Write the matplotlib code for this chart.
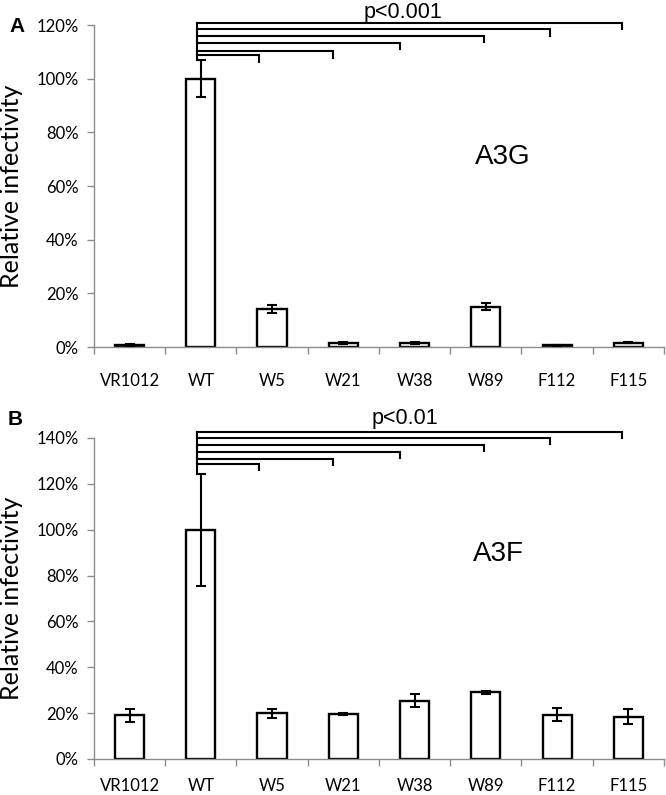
import numpy as np
import matplotlib.pyplot as plt

# data (relative infectivity, %)
groups = ["VR1012", "WT", "W5", "W21", "W38", "W89", "F112", "F115"]

a3g_mean = [0.8, 100, 14, 1.5, 1.5, 15, 0.7, 1.6]
a3g_err = [0.3, 7, 1.5, 0.3, 0.5, 1.3, 0.2, 0.2]

a3f_mean = [19, 100, 20, 19.5, 25.5, 29, 19.3, 18.5]
a3f_err = [3, 24.5, 2, 0.5, 2.8, 0.8, 2.8, 3.2]

compared = ["W5", "W21", "W38", "W89", "F112", "F115"]
p_a3g = "p<0.001"
p_a3f = "p<0.01"

# layout of the hand drawn brackets
end_shift = [-0.18, -0.15, -0.21, -0.03, -0.10, -0.09]
lvl_a3g = [108.8, 110.3, 113.3, 115.9, 118.5, 120.8]
lvl_a3f = [128.6, 130.8, 133.9, 137.0, 140.0, 142.6]

fig = plt.figure(figsize=(6.66, 7.95), dpi=100)
axA = fig.add_axes([0.1411, 0.5635, 0.8559, 0.405])
axB = fig.add_axes([0.1411, 0.0453, 0.8559, 0.4038])

grey = "#8c8c8c"
lab_font = "Lato"


def panel(ax, mean, err, ymax, levels, drop, ptxt, pt_xy, name, name_xy, letter, lpos, xpad):
    x = np.arange(len(groups))
    ax.bar(x, mean, width=0.41, color="white", edgecolor="black", linewidth=1.7, zorder=2)
    ax.errorbar(x, mean, yerr=err, fmt="none", ecolor="black", elinewidth=1.5,
                capsize=3.6, capthick=1.5, zorder=3)
    ax.set_xlim(-0.5, len(groups) - 0.5)
    ax.set_ylim(0, ymax)
    ax.set_yticks(np.arange(0, ymax + 1, 20))
    ax.set_yticklabels([f"{int(v)}%" for v in np.arange(0, ymax + 1, 20)],
                       fontsize=12, family=lab_font)
    ax.set_xticks(np.arange(-0.5, len(groups), 1))
    ax.set_xticklabels([])
    ax.set_xticks(x, minor=True)
    ax.set_xticklabels(groups, minor=True, fontsize=12, family=lab_font)
    ax.tick_params(axis="x", which="major", length=5, color=grey, width=1)
    ax.tick_params(axis="x", which="minor", length=0, pad=xpad)
    ax.tick_params(axis="y", length=5, color=grey, width=1, pad=6)
    for s in ["top", "right"]:
        ax.spines[s].set_visible(False)
    for s in ["left", "bottom"]:
        ax.spines[s].set_color(grey)
        ax.spines[s].set_linewidth(1)
    ax.set_ylabel("Relative infectivity", fontsize=18, family=lab_font)
    ax.yaxis.set_label_coords(-0.125, 0.5)

    # significance brackets from WT
    wt = groups.index("WT") - 0.06
    wt_top = mean[1] + err[1]
    for g, lv, sh in zip(compared, levels, end_shift):
        xe = groups.index(g) + sh
        ax.plot([wt, xe, xe], [lv, lv, lv - drop], color="black", lw=1.5,
                clip_on=False, solid_joinstyle="miter", zorder=4)
    ax.plot([wt, wt], [wt_top, max(levels)], color="black", lw=1.5, clip_on=False, zorder=4)
    ax.text(pt_xy[0], pt_xy[1], ptxt, ha="center", va="baseline",
            fontsize=15.5, family="Liberation Sans")
    ax.text(name_xy[0], name_xy[1], name, ha="center", va="center", fontsize=20,
            family="Liberation Sans")
    ax.text(lpos[0], lpos[1], letter, transform=ax.transAxes, ha="left", va="center",
            fontsize=15, fontweight="bold", family="Liberation Sans")


panel(axA, a3g_mean, a3g_err, 120, lvl_a3g, 2.4, p_a3g, (3.84, 122.7), "A3G", (5.23, 71),
      "A", (-0.148, 0.994), 19)
panel(axB, a3f_mean, a3f_err, 140, lvl_a3f, 2.6, p_a3f, (3.87, 146.0), "A3F", (5.18, 89.5),
      "B", (-0.152, 1.056), 14)

fig.savefig("out.png", dpi=100)
